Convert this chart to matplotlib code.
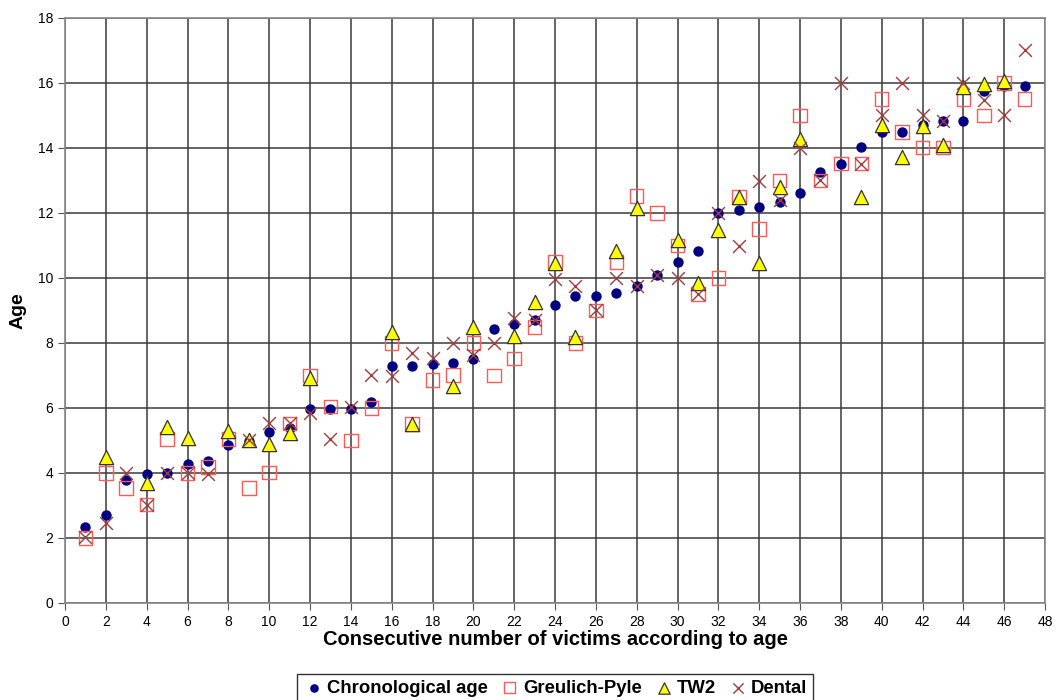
import numpy as np
import matplotlib.pyplot as plt

plt.rcParams['font.family'] = ['Liberation Sans', 'DejaVu Sans']

nan = np.nan
victim = list(range(1, 48))

chrono = [2.35, 2.7, 3.77, 3.96, 4.0, 4.28, 4.37, 4.85, 4.98, 5.27,
          5.38, 5.96, 5.96, 5.96, 6.19, 7.28, 7.28, 7.36, 7.37, 7.52,
          8.43, 8.58, 8.71, 9.17, 9.45, 9.45, 9.53, 9.75, 10.08, 10.5,
          10.83, 12.0, 12.09, 12.18, 12.35, 12.6, 13.26, 13.52, 14.02, 14.5,
          14.5, 14.7, 14.84, 14.84, 15.75, 15.9, 15.92]

greulich = [2.0, 4.0, 3.53, 3.03, 5.04, 4.0, 4.18, 5.04, 3.53, 4.02,
            5.52, 7.0, 6.04, 5.0, 6.0, 8.0, 5.5, 6.86, 7.02, 8.0,
            7.0, 7.52, 8.5, 10.5, 8.0, 9.0, 10.5, 12.52, 12.0, 11.0,
            9.5, 10.0, 12.5, 11.5, 13.0, 15.0, 13.0, 13.52, 13.52, 15.5,
            14.5, 14.02, 14.02, 15.5, 15.0, 16.0, 15.5]

tw2 = [nan, 4.5, nan, 3.68, 5.41, 5.08, nan, 5.28, 5.03, 4.89,
       5.22, 6.91, nan, nan, nan, 8.35, 5.5, nan, 6.69, 8.48,
       nan, 8.23, 9.27, 10.47, 8.19, nan, 10.83, 12.15, nan, 11.18,
       9.84, 11.48, 12.48, 10.45, 12.79, 14.28, nan, nan, 12.48, 14.7,
       13.73, 14.68, 14.1, 15.87, 15.96, 16.06, nan]

dental = [2.02, 2.47, 3.99, 3.03, 4.01, 4.0, 3.98, nan, 5.03, 5.53,
          5.53, 5.84, 5.04, 6.02, 7.0, 6.98, 7.7, 7.55, 8.0, 7.63,
          8.0, 8.77, 8.71, 9.98, 9.75, 9.0, 10.0, 9.75, 10.08, 10.0,
          9.5, 12.0, 10.98, 12.97, 12.4, 14.0, 13.0, 16.0, 13.52, 15.0,
          16.0, 15.0, 14.84, 16.0, 15.48, 15.0, 17.0]

fig = plt.figure(figsize=(10.57, 7), dpi=100)
ax = fig.add_axes([0.0615, 0.1386, 0.9272, 0.8357])

ax.scatter(victim, chrono, s=42, marker='o', color='#000080', zorder=3,
           label='Chronological age')
ax.scatter(victim, greulich, s=95, marker='s', facecolors='none',
           edgecolors='#ff5a5a', linewidths=1.0, zorder=4, label='Greulich-Pyle')
ax.scatter(victim, tw2, s=105, marker='^', color='#ffff00',
           edgecolors='#333333', linewidths=0.9, zorder=5, label='TW2')
ax.scatter(victim, dental, s=85, marker='x', color='#a03c3c',
           linewidths=1.0, zorder=6, label='Dental')

ax.set_xlim(0, 48)
ax.set_ylim(0, 18)
ax.set_xticks(range(0, 49, 2))
ax.set_yticks(range(0, 19, 2))
ax.grid(True, color='#3a3a3a', linewidth=1.1, zorder=0)
ax.set_axisbelow(True)
for sp in ax.spines.values():
    sp.set_color('#888888')
    sp.set_linewidth(1.2)
ax.tick_params(axis='both', direction='out', length=5, color='#555555',
               labelsize=10)

ax.set_xlabel('Consecutive number of victims according to age',
              fontsize=14.5, fontweight='bold', labelpad=1)
ax.set_ylabel('Age', fontsize=14, fontweight='bold', labelpad=8)

leg = fig.legend(loc='center', bbox_to_anchor=(0.525, 0.017), ncol=4,
                 frameon=True, fancybox=False, edgecolor='black',
                 handletextpad=0.1, columnspacing=0.6, borderpad=0.3,
                 prop={'weight': 'bold', 'size': 13.3}, markerscale=0.8,
                 handlelength=1.2)
leg.get_frame().set_linewidth(1.0)

fig.savefig('out.png', dpi=100)
